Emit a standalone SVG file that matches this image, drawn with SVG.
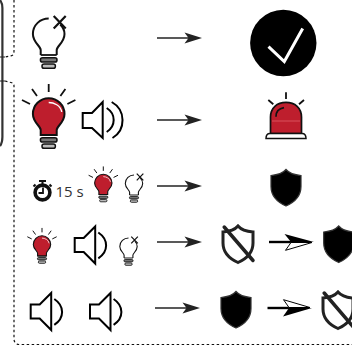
<svg xmlns="http://www.w3.org/2000/svg" width="352" height="347" viewBox="0 0 352 347">
<style>
.dash{fill:none;stroke:#111;stroke-width:1.200;stroke-dasharray:2.500 2.500}
.ln{stroke:#222;stroke-width:1.300;fill:none}
.ray{stroke:#111;stroke-width:1.800;fill:none}
.sp{fill:none;stroke:#000;stroke-width:2;stroke-linejoin:miter}
</style>
<defs>
<g id="base">
<path d="M-8,20H8" stroke="#111" stroke-width="1.800"/>
<rect x="-8.300" y="22.800" width="16.600" height="4.300" rx="2.100" fill="#777" stroke="#111" stroke-width="1.500"/>
<rect x="-6.700" y="29" width="13.400" height="4.300" rx="2.100" fill="#bbb" stroke="#111" stroke-width="1.500"/>
</g>
<path id="glass" d="M-8,20V15C-8,11-15.800,7.500-15.800,-1A15.800,15.800 0 1 1 15.800,-1C15.800,7.500 8,11 8,15V20Z"/>
<g id="bulbOff">
<path d="M-8,20V15C-8,11-15.800,7.500-15.800,-1C-15.800,-10-8.500,-16.500 0,-16.500M11.500,-10.500C14.300,-7.800 15.800,-4.500 15.800,-1C15.800,7.500 8,11 8,15V20" fill="none" stroke="#111" stroke-width="2"/>
<path d="M5,-19L17,-6.500M17,-19L5,-6.500" stroke="#111" stroke-width="2.200" fill="none"/>
<use href="#base"/>
</g>
<g id="bulbOn">
<use href="#glass" fill="#be1e2d" stroke="#111" stroke-width="2"/>
<path d="M0,-12.500C5,-12.500 12,-9.500 13,-3" fill="none" stroke="#fff" stroke-width="1.300"/>
<use href="#base"/>
<path d="M0,-23V-31M-11.700,-19L-16.700,-26M11.700,-19L16.700,-26M-18.700,-11L-26.700,-15M18.700,-11L26.700,-15" class="ray"/>
</g>
<g id="spk1">
<path d="M0,11.500H9L20.500,0V37L9,25.500H0Z" class="sp"/>
<path d="M23.600,6C34,13 34,25 23.600,31.800" class="sp"/>
</g>
<path id="shield" d="M0,0C3,3.500 9,5.500 15,6V17C15,26 9,32.500 0,36.500C-9,32.500-15,26-15,17V6C-9,5.500-3,3.500 0,0Z"/>
<g id="shieldOff">
<use href="#shield" fill="none" stroke="#222" stroke-width="3"/>
<path d="M-13.800,1L15,34.500" stroke="#222" stroke-width="3.500" stroke-linecap="round"/>
</g>
<path id="head" d="M202,0L184.500,-5.500L188.500,0L184.500,5.500Z"/>
</defs>

<g id="frame">
<path d="M0,0C1.500,2 2.400,5 2.400,8V137C2.400,141 1.500,144 0,146" fill="none" stroke="#333" stroke-width="2.200"/>
<path d="M0,57H5" stroke="#222" stroke-width="1"/>
<path d="M0,81H5" stroke="#222" stroke-width="1"/>
<path d="M14,0V51C14,54 13,55.500 11,55.800L5,57" class="dash"/>
<path d="M5,81L11,82.500C13,83 14,84 14,86V339C14,342 16,344.500 19,344.500H352" class="dash"/>
</g>

<g id="connectors">
<g><path d="M157,38H190" class="ln"/><use href="#head" y="38" fill="#222"/></g>
<g><path d="M157,120H190" class="ln"/><use href="#head" y="120" fill="#222"/></g>
<g><path d="M157,186H190" class="ln"/><use href="#head" y="186" fill="#222"/></g>
<g><path d="M157,242H190" class="ln"/><use href="#head" y="242" fill="#222"/></g>
<g transform="translate(-2,0)"><path d="M157,308H190" class="ln"/><use href="#head" y="308" fill="#222"/></g>
<g><path d="M269,242H291" stroke="#000" stroke-width="2.400"/><path d="M284.500,234L314,242H291Z" fill="#000"/><path d="M291,242.500H312L285.500,250.300Z" fill="#fff" stroke="#000" stroke-width="1"/></g>
<g><path d="M267.500,308H289" stroke="#000" stroke-width="2.400"/><path d="M283,316.500L312,308H289Z" fill="#000"/><path d="M289,307.500H310L283.500,299.700Z" fill="#fff" stroke="#000" stroke-width="1"/></g>
</g>

<g id="bulb-off-1"><use href="#bulbOff" x="48.700" y="35"/></g>
<g id="check">
<circle cx="283.300" cy="43" r="33.200" fill="#000"/>
<path d="M268.500,46.700L284.300,61.500L302.700,28.500" fill="none" stroke="#fff" stroke-width="3"/>
</g>
<g id="bulb-on-1"><use href="#bulbOn" x="48.700" y="115"/></g>
<g id="speaker-1">
<path d="M82.700,113H92L102.700,102V138L92,128H82.700Z" class="sp"/>
<path d="M106.700,108C116,114 116,126 106.700,132" class="sp"/>
<path d="M111.700,102C126,110 126,130 112.500,138" class="sp"/>
</g>
<g id="alarm">
<path d="M286,92.300V99M268.300,100L273.300,104.300M304,100L299,104.300" stroke="#111" stroke-width="1.800"/>
<path d="M270.500,133.500V117C270.500,108 277,102.300 286,102.300S301.500,108 301.500,117V133.500Z" fill="#be1e2d" stroke="#111" stroke-width="1.700"/>
<path d="M272,121H300" stroke="#d8515c" stroke-width="1"/>
<path d="M276,116.700C276,112 279,108.500 284,107.700" fill="none" stroke="#111" stroke-width="1.700"/>
<path d="M266,138.500C266,135 267,133.500 270,133.500H302C305,133.500 306,135 306,138.500Z" fill="#fff" stroke="#111" stroke-width="1.500"/>
</g>
<g id="timer">
<circle cx="42.500" cy="192.500" r="7.400" fill="#fff" stroke="#111" stroke-width="3.600"/>
<path d="M43,187.500V193H38.500" fill="none" stroke="#111" stroke-width="1.800"/>
<path d="M39,181H46M42.500,181V185M49.500,184.500L51.500,186.500M35.500,184.500L33.500,186.500" stroke="#111" stroke-width="2"/>
<text x="55.500" y="197" font-family="'Open Sans',sans-serif" font-size="15" fill="#333">15 s</text>
</g>
<g id="bulb-on-2"><use href="#bulbOn" transform="translate(103.300,183.500) scale(.55)"/></g>
<g id="bulb-off-2"><use href="#bulbOff" transform="translate(134,184) scale(.55)"/></g>
<g id="shield-1"><use href="#shield" x="286" y="169.500" fill="#000" stroke="#333" stroke-width="1.200"/></g>
<g id="bulb-on-3"><use href="#bulbOn" transform="translate(42,245) scale(.55)"/></g>
<g id="speaker-2"><use href="#spk1" x="74.700" y="226.500"/></g>
<g id="bulb-off-3"><use href="#bulbOff" transform="translate(128.500,247) scale(.55)"/></g>
<g id="shield-2"><use href="#shieldOff" x="238" y="226"/></g>
<g id="shield-3"><use href="#shield" x="338.700" y="226" fill="#000" stroke="#333" stroke-width="1.200"/></g>
<g id="speaker-3"><use href="#spk1" x="30.700" y="293"/></g>
<g id="speaker-4"><use href="#spk1" x="90" y="293"/></g>
<g id="shield-4"><use href="#shield" x="236" y="291.500" fill="#000" stroke="#333" stroke-width="1.200"/></g>
<g id="shield-5"><use href="#shieldOff" x="338" y="292"/></g>
</svg>
